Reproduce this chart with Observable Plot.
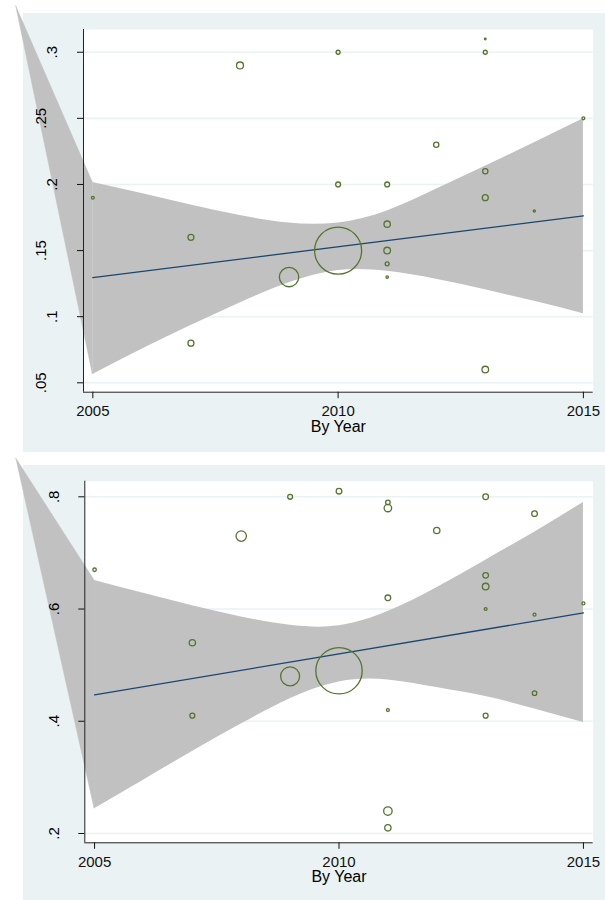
<!DOCTYPE html>
<html><head><meta charset="utf-8">
<script src="https://cdn.jsdelivr.net/npm/d3@7"></script>
<script src="https://cdn.jsdelivr.net/npm/@observablehq/plot@0.6"></script>
<style>
body{margin:0;background:#fff;}
#wrap{position:relative;width:605px;height:900px;overflow:hidden;font-family:"Liberation Sans",Arial,sans-serif;}
.bg{position:absolute;background:#EAF2F3;}
.panel{position:absolute;left:0;width:605px;}
.panel svg{overflow:visible;}
</style></head><body>
<div id="wrap">
<div class="bg" style="left:23px;top:13px;width:582px;height:439px"></div>
<div class="bg" style="left:23px;top:465px;width:582px;height:435px"></div>
<div class="panel" id="p1" style="top:0"></div>
<div class="panel" id="p2" style="top:452px"></div>
</div>
<script>
// ---- data ----
const xTicks = [2005, 2010, 2015];
const xTitle = "By Year";

const topYTicks = [0.05, 0.1, 0.15, 0.2, 0.25, 0.3];
const topYLabels = [".05", ".1", ".15", ".2", ".25", ".3"];
const botYTicks = [0.2, 0.4, 0.6, 0.8];
const botYLabels = [".2", ".4", ".6", ".8"];

const topYear = [2005,2007,2007,2008,2009,2010,2010,2010,2011,2011,2011,2011,2011,2012,2013,2013,2013,2013,2013,2014,2015];
const topValue = [0.19,0.16,0.08,0.29,0.13,0.30,0.20,0.15,0.20,0.17,0.15,0.14,0.13,0.23,0.31,0.30,0.21,0.19,0.06,0.18,0.25];
const topWeight = [2,9,9,12,94,4,6,552,6,10,11,4,1.5,7,0.7,4,7,9,11,1.2,2];

const botYear = [2005,2007,2007,2008,2009,2009,2010,2010,2011,2011,2011,2011,2011,2011,2012,2013,2013,2013,2013,2013,2014,2014,2014,2015];
const botValue = [0.67,0.54,0.41,0.73,0.80,0.48,0.81,0.49,0.79,0.78,0.62,0.42,0.24,0.21,0.74,0.80,0.66,0.64,0.60,0.41,0.77,0.59,0.45,0.61];
const botWeight = [3,10,6,27,6,90,8,538,5,14,8,2.2,18,10,10,8,8,11,2,6,8,2.2,5,2.2];

const bandYear = [2005,2006,2007,2008,2009,2010,2011,2012,2013,2014,2015];
const topUpper = [0.2015,0.1931,0.1845,0.1766,0.1708,0.1709,0.1800,0.1963,0.2137,0.2316,0.2497];
const topLower = [0.0563,0.0753,0.0933,0.1104,0.1256,0.1349,0.1343,0.1283,0.1203,0.1116,0.1023];
const botUpper = [0.651,0.628,0.606,0.586,0.571,0.570,0.5955,0.638,0.687,0.737,0.790];
const botLower = [0.244,0.295,0.346,0.395,0.440,0.470,0.4737,0.460,0.444,0.422,0.398];

const fitYear = [2005, 2015];
const topFit = [0.1295, 0.1763];
const botFit = [0.447, 0.593];

const topTip = [2003.44, 0.3346];
const botTip = [2003.40, 0.8677];

const topXDomain = [2004.81, 2015.2], topYDomain = [0.0429, 0.3172];
const botXDomain = [2004.80, 2015.2], botYDomain = [0.1834, 0.8278];

// ---- drawing ----
const FONT = "'Liberation Sans', Arial, Helvetica, sans-serif";
const BAND = "#c1c1c1";

function panel(o) {
  const pts = o.year.map((x, i) => ({x, y: o.value[i], w: o.weight[i]}));
  const band = bandYear.map((x, i) => ({x, hi: o.upper[i], lo: o.lower[i]}));
  const tip = [{x: o.tip[0], hi: o.tip[1], lo: o.tip[1]}, band[0]];
  const fit = fitYear.map((x, i) => ({x, y: o.fit[i]}));
  const labs = o.yTicks.map((v, i) => ({v, t: o.yLabels[i], outer: o.alternate && i % 2 === 0}));
  const labOpts = {y: "v", text: "t", frameAnchor: "left", rotate: -90, fontSize: 15, fill: "#000", textAnchor: "middle", lineAnchor: "middle"};
  return Plot.plot({
    width: 605, height: o.height,
    marginLeft: o.ml, marginRight: 12.3, marginTop: o.mt, marginBottom: o.mb,
    x: {domain: o.xDomain},
    y: {domain: o.yDomain},
    r: {type: "sqrt", domain: [0, 576], range: [0, 24]},
    style: {background: "transparent", overflow: "visible", fontFamily: FONT},
    marks: [
      Plot.frame({fill: "white", stroke: "none"}),
      Plot.gridY(o.yTicks, {stroke: "#EAF2F3", strokeOpacity: 1, strokeWidth: 1.6}),
      Plot.areaY(band, {x: "x", y1: "lo", y2: "hi", fill: BAND, curve: "natural"}),
      Plot.areaY(tip, {x: "x", y1: "lo", y2: "hi", fill: BAND, stroke: BAND, strokeWidth: 0.5}),
      Plot.line(fit, {x: "x", y: "y", stroke: "#1A476F", strokeWidth: 1.3}),
      Plot.dot(pts, {x: "x", y: "y", r: "w", stroke: "#55752F", strokeWidth: 1.3, fill: "none"}),
      Plot.ruleX([o.xDomain[0]], {stroke: "#222", strokeWidth: 1}),
      Plot.ruleY([o.yDomain[0]], {stroke: "#222", strokeWidth: 1}),
      Plot.axisX(xTicks, {tickSize: 6.5, tickPadding: 7, fontSize: 15, tickFormat: d => String(d), label: null, color: "#111"}),
      Plot.axisY(o.yTicks, {tickSize: 6, tickFormat: () => "", label: null, color: "#111"}),
      Plot.text(labs.filter(d => !d.outer), {...labOpts, dx: -31}),
      Plot.text(labs.filter(d => d.outer), {...labOpts, dx: -42.7}),
      Plot.text([xTitle], {frameAnchor: "bottom", dy: 34.5, fontSize: 16, fill: "#000", textAnchor: "middle", lineAnchor: "middle"})
    ]
  });
}

document.getElementById("p1").append(panel({
  height: 452, ml: 83, mt: 29, mb: 60.3,
  xDomain: topXDomain, yDomain: topYDomain,
  year: topYear, value: topValue, weight: topWeight,
  upper: topUpper, lower: topLower, tip: topTip, fit: topFit,
  yTicks: topYTicks, yLabels: topYLabels, alternate: true
}));
document.getElementById("p2").append(panel({
  height: 448, ml: 84.3, mt: 28.7, mb: 57.7,
  xDomain: botXDomain, yDomain: botYDomain,
  year: botYear, value: botValue, weight: botWeight,
  upper: botUpper, lower: botLower, tip: botTip, fit: botFit,
  yTicks: botYTicks, yLabels: botYLabels, alternate: false
}));
</script>
</body></html>
